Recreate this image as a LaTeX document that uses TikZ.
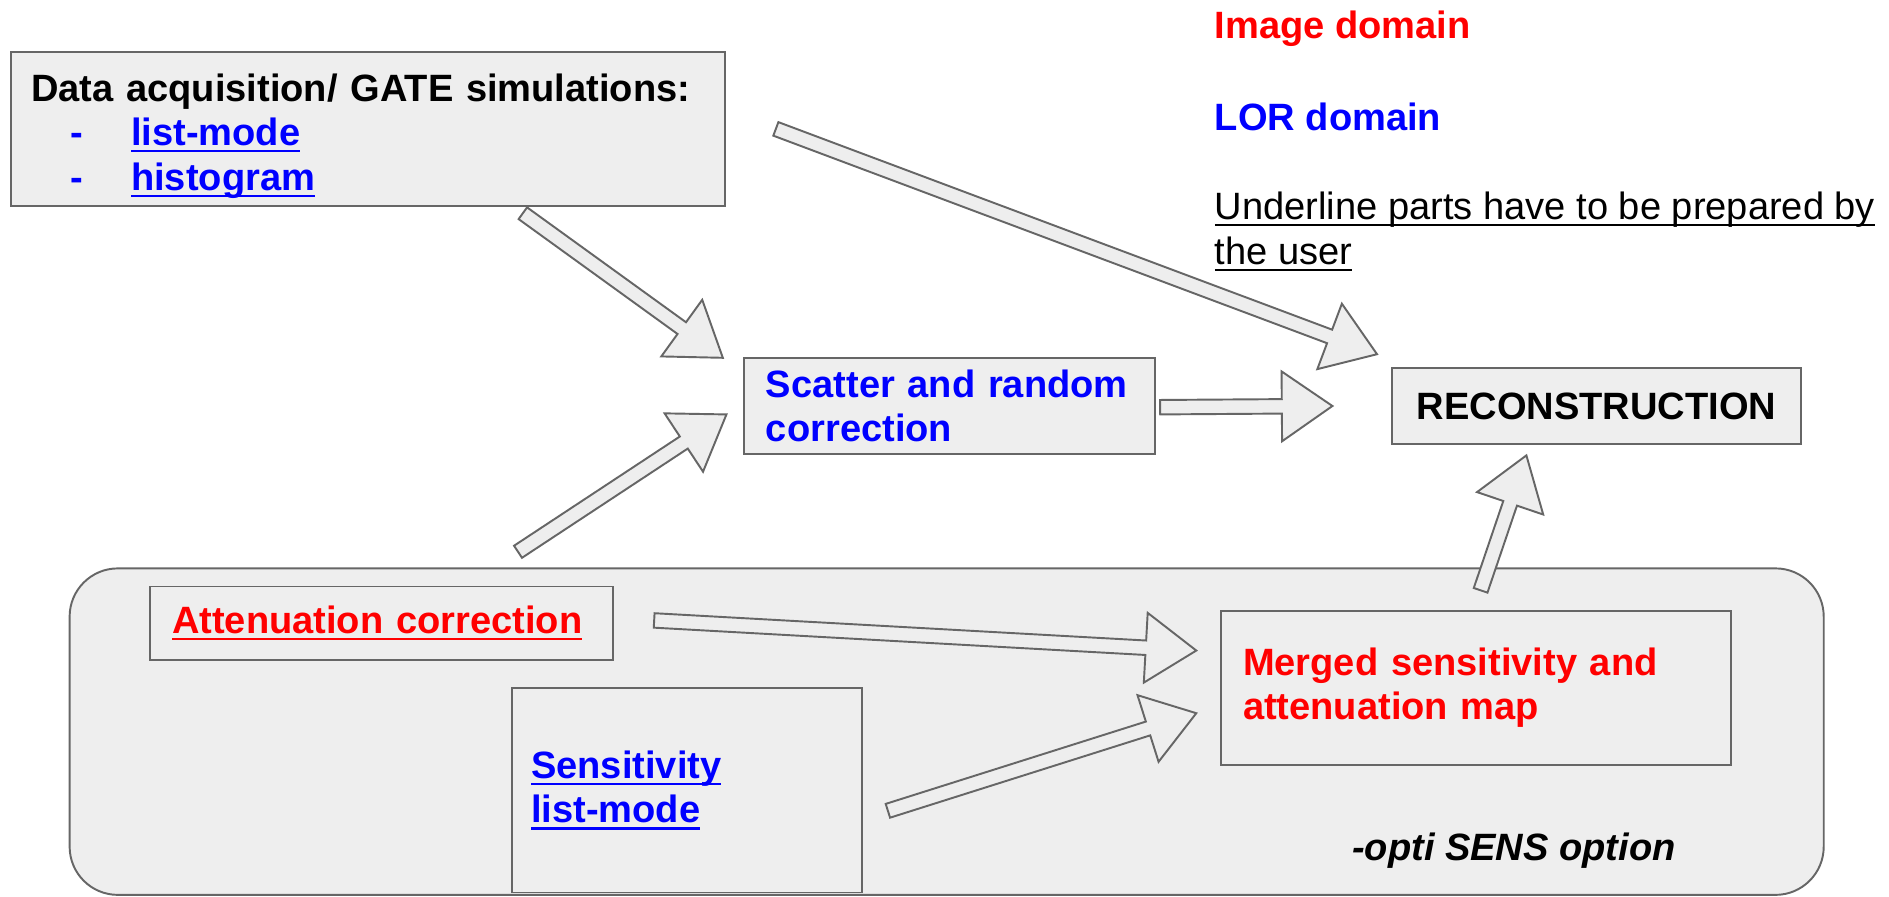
\documentclass[tikz,border=0pt]{standalone}
\usepackage{fontspec}
\setmainfont{Liberation Sans}
\usetikzlibrary{calc}
\definecolor{boxfill}{RGB}{238,238,238}
\definecolor{bordergray}{RGB}{102,102,102}
\definecolor{tblue}{RGB}{0,0,255}
\definecolor{tred}{RGB}{255,0,0}
\newcommand\fs{\fontsize{15.8}{18.5}\selectfont}
\newcommand\ul[1]{\leavevmode\setbox0\hbox{#1}\rlap{\rule[-2.8pt]{\wd0}{1pt}}\box0}
\newcommand\barrow[2]{%
  \path[barrowstyle] let \p1=(#1), \p2=(#2),
    \n1={atan2(\y2-\y1,\x2-\x1)}, \n2={veclen(\x2-\x1,\y2-\y1)} in
    ($(\p1)+({\n1+90}:3pt)$)
    -- ($(\p1)+({\n1}:{\n2-21pt})+({\n1+90}:3pt)$)
    -- ($(\p1)+({\n1}:{\n2-21pt})+({\n1+90}:14.5pt)$)
    -- (\p2)
    -- ($(\p1)+({\n1}:{\n2-21pt})+({\n1-90}:14.5pt)$)
    -- ($(\p1)+({\n1}:{\n2-21pt})+({\n1-90}:3pt)$)
    -- ($(\p1)+({\n1-90}:3pt)$) -- cycle;}
\begin{document}
\begin{tikzpicture}[x=0.5pt,y=-0.5pt,
  box/.style={draw=bordergray,fill=boxfill,line width=0.8pt,inner ysep=0pt,anchor=north west,font=\bfseries\fs},
  barrowstyle/.style={draw=bordergray,fill=boxfill,line width=0.8pt,line join=miter},
  txt/.style={inner sep=0pt,font=\bfseries\fs}]
\useasboundingbox (0,0) rectangle (1568,744);
\fill[white] (0,0) rectangle (1568,744);

\node[box, rounded corners=20pt, minimum width=728pt, minimum height=135.5pt] (grp) at (57,471) {};

\node[box, minimum width=296.5pt, minimum height=64pt, text width=279.5pt, inner xsep=8.5pt, align=left] (data) at (8,42)
  {\rule{0pt}{17.5pt}\mbox{Data acquisition/ GATE simulations:}\\
   \textcolor{tblue}{\hspace*{16.5pt}\makebox[25pt][l]{-}\ul{list-mode}}\\
   \textcolor{tblue}{\hspace*{16.5pt}\makebox[25pt][l]{-}\ul{histogram}}};

\node[box, minimum width=170.5pt, minimum height=40pt, text width=152.5pt, inner xsep=9pt, align=left, text=tblue] (scat) at (617,296)
  {\mbox{Scatter and random}\\correction};

\node[box, minimum width=169.5pt, minimum height=31.5pt, align=center] (recon) at (1155,305) {RECONSTRUCTION};

\node[box, minimum width=192pt, minimum height=30.5pt, text width=174pt, inner xsep=9pt, align=left, text=tred] (att) at (124,486)
  {\ul{Attenuation correction}};

\node[box, minimum width=145.5pt, minimum height=85pt, text width=129.5pt, inner xsep=8pt, align=left, text=tblue] (sens) at (424,570)
  {\ul{Sensitivity}\\\ul{list-mode}};

\node[box, minimum width=211.5pt, minimum height=64pt, text width=193.5pt, inner xsep=9pt, align=left, text=tred] (merged) at (1013,506)
  {\mbox{Merged sensitivity and}\\attenuation map};

\node[txt, anchor=base west, font=\bfseries\itshape\fs] (opt) at (1122,714) {-opti SENS option};

\node[txt, anchor=base west, text=tred] (img) at (1008,32) {Image domain};
\node[txt, anchor=base west, text=tblue] (lor) at (1008,108) {LOR domain};
\node[txt, anchor=north west, font=\fs, align=left] (note) at (1008,159)
  {\ul{Underline parts have to be prepared by}\\\ul{the user}};

\coordinate (a1s) at (434,177); \coordinate (a1e) at (600,297);
\coordinate (a2s) at (644,107); \coordinate (a2e) at (1143,294);
\coordinate (a3s) at (963,338); \coordinate (a3e) at (1106,337);
\coordinate (a4s) at (430,458); \coordinate (a4e) at (603,344);
\coordinate (a5s) at (543,515); \coordinate (a5e) at (993,540);
\coordinate (a6s) at (737,673); \coordinate (a6e) at (993,592);
\coordinate (a7s) at (1229,490); \coordinate (a7e) at (1267,378);

\barrow{a1s}{a1e}
\barrow{a2s}{a2e}
\barrow{a3s}{a3e}
\barrow{a4s}{a4e}
\barrow{a5s}{a5e}
\barrow{a6s}{a6e}
\barrow{a7s}{a7e}
\end{tikzpicture}
\end{document}
